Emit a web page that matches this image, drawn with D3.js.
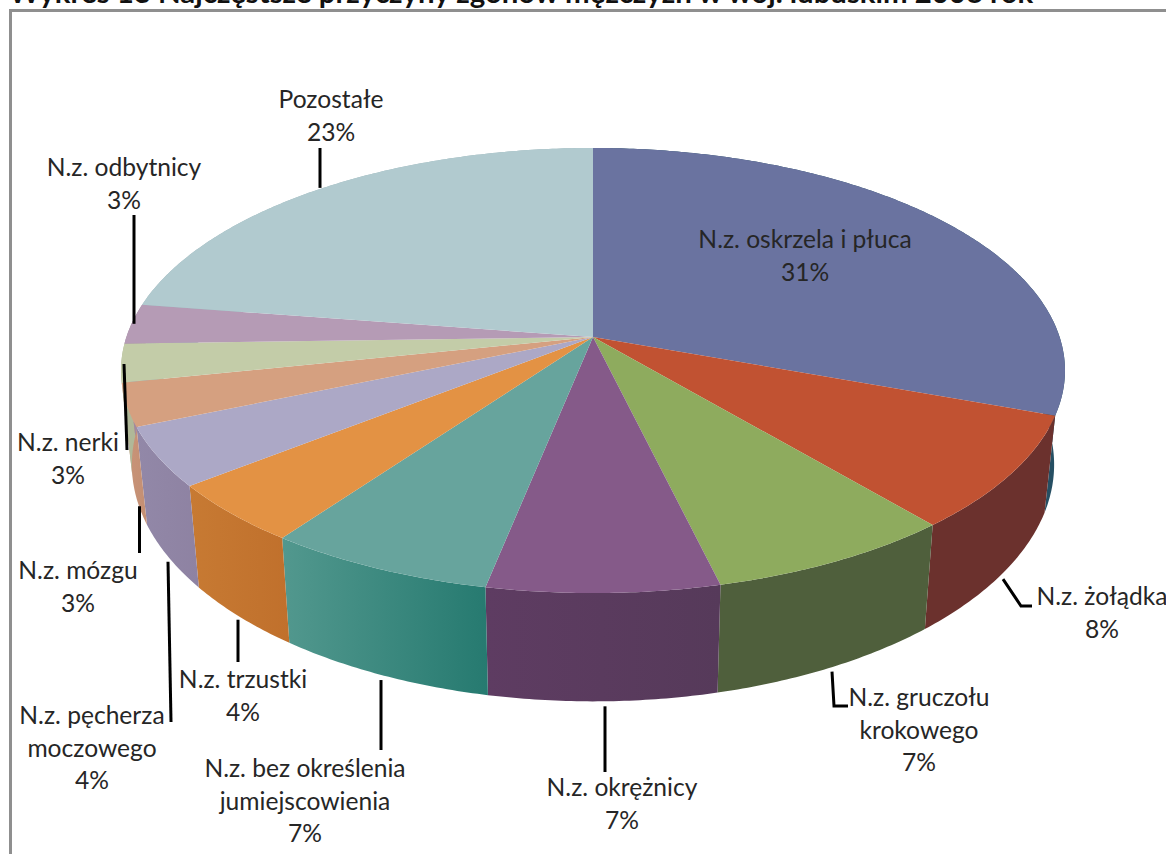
<!DOCTYPE html>
<html><head><meta charset="utf-8">
<script src="https://cdn.jsdelivr.net/npm/d3@7/dist/d3.min.js"></script>
<style>html,body{margin:0;padding:0;background:#fff}svg{display:block}text{font-family:Lato,sans-serif}</style>
</head><body><svg id="c" width="1166" height="854"></svg>
<script>
const titleText = "Wykres 13 Najczęstsze przyczyny zgonów mężczyzn w woj. lubuskim 2008 rok";
const categories = ["N.z. oskrzela i płuca","N.z. żołądka","N.z. gruczołu krokowego","N.z. okrężnicy","N.z. bez określenia jumiejscowienia","N.z. trzustki","N.z. pęcherza moczowego","N.z. mózgu","N.z. nerki","N.z. odbytnicy","Pozostałe"];
const values = [30.6,8.3,7.4,6.9,6.8,4.4,4.3,3.1,2.8,2.9,22.6];
const topColors = ["#6A73A0","#C15232","#8EAB5E","#855A89","#67A49D","#E39244","#ACA8C6","#D5A080","#C3CCA8","#B59BB5","#B1CACF"];
const wallStart = ["#264F63","#6B312D","#4F5F3C","#5E3C62","#52988E","#C77A33","#9288A8","#C9957A","#B0B898","#A08AA0","#9DB5BA"];
const wallEnd   = ["#264F63","#6B312D","#4F5F3C","#563A5A","#267A70","#C0702C","#8E82A2","#C48F73","#B0B898","#A08AA0","#9DB5BA"];
const labelLines = [["N.z. oskrzela i płuca"],["N.z. żołądka"],["N.z. gruczołu","krokowego"],["N.z. okrężnicy"],["N.z. bez określenia","jumiejscowienia"],["N.z. trzustki"],["N.z. pęcherza","moczowego"],["N.z. mózgu"],["N.z. nerki"],["N.z. odbytnicy"],["Pozostałe"]];

const svg = d3.select("#c");
// camera
const cx=593,cy=337,A=466.6,B=217.5,k=0.1506,depth=92,shrink=0.023;
function project(a,z){
  const u=Math.sin(a),v=-Math.cos(a),w=1-k*v;
  return [cx+A*u/w*(1-shrink*z), cy+(B*v+depth*z)/w];
}
function arcPts(a0,a1,z){
  const n=Math.max(2,Math.ceil((a1-a0)/0.01)),pts=[];
  d3.range(n+1).forEach(i=>pts.push(project(a0+(a1-a0)*i/n,z)));
  return pts;
}
const line=d3.line();
const arcs=d3.pie().sort(null).value(d=>d)(values);
const defs=svg.append("defs");

// frame
svg.append("path").attr("d","M10.5,854V10.5H1166").attr("fill","none").attr("stroke","#8f8f8f").attr("stroke-width",3);
// clipped title
svg.append("text").attr("x",9).attr("y",3).attr("font-size",29.4).attr("font-weight",700).attr("fill","#111").text(titleText);

// walls
arcs.forEach((d,i)=>{
  const a0=d.startAngle,a1=d.endAngle;
  const t=arcPts(a0,a1,0),b=arcPts(a0,a1,1).reverse();
  const xs=t.concat(b).map(p=>p[0]);
  const g=defs.append("linearGradient").attr("id","w"+i).attr("gradientUnits","userSpaceOnUse")
    .attr("x1",d3.min(xs)).attr("x2",d3.max(xs)).attr("y1",0).attr("y2",0);
  g.append("stop").attr("offset",0).attr("stop-color",wallStart[i]);
  g.append("stop").attr("offset",1).attr("stop-color",wallEnd[i]);
  svg.append("path").attr("d",line(t.concat(b))+"Z").attr("fill",`url(#w${i})`);
});
// top faces
arcs.forEach((d,i)=>{
  const pts=[[cx,cy]].concat(arcPts(d.startAngle,d.endAngle,0));
  svg.append("path").attr("d",line(pts)+"Z").attr("fill",topColors[i]);
});
// leaders: anchored at the slice's mid-angle on the rim
const leaders={
 1:{z:1,x:1003,dy:5,via:[[1021,606],[1032,606]]},
 2:{z:1,x:832,dy:4,via:[[834,706],[848,706]]},
 3:{z:1,x:605,dy:5,via:[[605,772]]},
 4:{z:1,x:381,dy:5,via:[[381,750]]},
 5:{z:1,x:238,dy:3,via:[[238,662]]},
 6:{z:1,x:168,dy:5,via:[[171,722]]},
 7:{z:1,x:139.5,dy:5,via:[[139.5,553]]},
 8:{z:0,x:124,dy:1,via:[[127,450]]},
 9:{z:0,x:134,dy:0,via:[[134,215]]},
 10:{z:0,x:320,dy:-1,via:[[320,148]]}
};
Object.entries(leaders).forEach(([i,l])=>{
  const d=arcs[+i],p=project((d.startAngle+d.endAngle)/2,l.z);
  svg.append("path").attr("d",line([[l.x,p[1]+l.dy]].concat(l.via))).attr("fill","none").attr("stroke","#000").attr("stroke-width",3);
});
// labels
const labelPos=[[805,248],[1102,605],[919,706],[622,796],[305,777],[243,688],[92,724],[78,579],[68,451],[124,176],[331,108]];
const pct=d3.format(".0f");
labelLines.forEach((lines,i)=>{
  const [x,y]=labelPos[i];
  const t=svg.append("text").attr("text-anchor","middle").attr("font-size",24.6).attr("fill","#262626");
  lines.concat([pct(values[i])+"%"]).forEach((s,j)=>t.append("tspan").attr("x",x).attr("y",y+j*32.5).text(s));
});
</script></body></html>
